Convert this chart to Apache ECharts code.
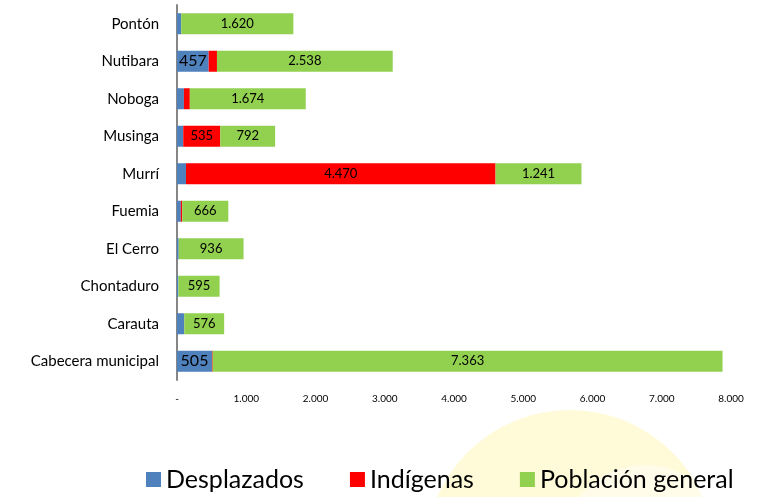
<!DOCTYPE html>
<html>
<head>
<meta charset="utf-8">
<script src="https://cdn.jsdelivr.net/npm/echarts@6/dist/echarts.min.js"></script>
<style>
  html, body { margin: 0; padding: 0; background: #fff; }
  #main { width: 760px; height: 497px; }
</style>
</head>
<body>
<div id="main"></div>
<script>
// categorias de abajo hacia arriba
var categorias = ['Cabecera municipal', 'Carauta', 'Chontaduro', 'El Cerro', 'Fuemia',
  'Murrí', 'Musinga', 'Noboga', 'Nutibara', 'Pontón'];
var desplazados = [505, 105, 20, 25, 55, 130, 90, 100, 457, 60];
var indigenas = [10, 0, 0, 0, 20, 4470, 535, 85, 120, 0];
var poblacionGeneral = [7363, 576, 595, 936, 666, 1241, 792, 1674, 2538, 1620];
var ticksX = [0, 1000, 2000, 3000, 4000, 5000, 6000, 7000, 8000];

var fuente = 'Lato, "Open Sans", sans-serif';

function miles(v) {
  if (v === 0) return '-';
  return String(v).replace(/\B(?=(\d{3})+(?!\d))/g, '.');
}

// solo los segmentos grandes llevan etiqueta
function etiqueta(tam) {
  return {
    show: true,
    position: 'inside',
    color: '#000',
    fontFamily: fuente,
    fontSize: tam,
    formatter: function (p) { return p.value >= 400 ? miles(p.value) : ''; }
  };
}

var myChart = echarts.init(document.getElementById('main'));

var option = {
  animation: false,
  backgroundColor: '#fff',
  // marca de agua amarilla del fondo
  graphic: [{
    type: 'circle',
    z: -10,
    silent: true,
    shape: { cx: 570, cy: 555, r: 145 },
    style: { fill: 'rgba(255,236,100,0.25)' }
  }, {
    type: 'circle',
    z: -9,
    silent: true,
    shape: { cx: 645, cy: 550, r: 85 },
    style: { fill: 'rgba(255,255,255,0.45)' }
  }],
  grid: { left: 177, right: 29, top: 5, bottom: 117 },
  legend: {
    bottom: 0,
    left: 141,
    itemWidth: 15,
    itemHeight: 15,
    itemGap: 46,
    icon: 'rect',
    textStyle: { fontFamily: fuente, fontSize: 25, color: '#000' },
    data: ['Desplazados', 'Indígenas', 'Población general']
  },
  xAxis: {
    type: 'value',
    min: ticksX[0],
    max: ticksX[ticksX.length - 1],
    interval: 1000,
    axisLine: { show: false },
    axisTick: { show: false },
    splitLine: { show: false },
    axisLabel: {
      margin: 14,
      fontFamily: fuente,
      fontSize: 10,
      color: '#000',
      formatter: miles
    }
  },
  yAxis: {
    type: 'category',
    data: categorias,
    axisLine: { show: true, lineStyle: { color: '#868686', width: 2 } },
    axisTick: { show: false },
    axisLabel: { margin: 18, fontFamily: fuente, fontSize: 15, color: '#000' }
  },
  series: [
    {
      name: 'Desplazados',
      type: 'bar',
      stack: 'total',
      barWidth: 21,
      itemStyle: { color: '#4F81BD' },
      label: etiqueta(16),
      data: desplazados
    },
    {
      name: 'Indígenas',
      type: 'bar',
      stack: 'total',
      barWidth: 21,
      itemStyle: { color: '#FF0000' },
      label: etiqueta(13),
      data: indigenas
    },
    {
      name: 'Población general',
      type: 'bar',
      stack: 'total',
      barWidth: 21,
      itemStyle: { color: '#92D050' },
      label: etiqueta(13),
      data: poblacionGeneral
    }
  ]
};

option && myChart.setOption(option);
</script>
</body>
</html>
